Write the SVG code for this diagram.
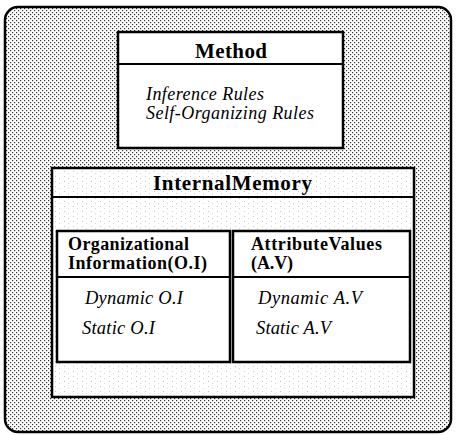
<svg xmlns="http://www.w3.org/2000/svg" width="456" height="435" viewBox="0 0 456 435">
  <defs>
    <pattern id="dots" width="4" height="4" patternUnits="userSpaceOnUse">
      <rect width="4" height="4" fill="#ffffff"/>
      <rect x="0" y="0" width="1.2" height="1.2" fill="#333"/>
      <rect x="2" y="2" width="1.2" height="1.2" fill="#333"/>
    </pattern>
    <pattern id="speckle" width="9" height="5" patternUnits="userSpaceOnUse">
      <rect width="9" height="5" fill="#ffffff"/>
      <rect x="1" y="1" width="1" height="1" fill="#c8c8c8"/>
      <rect x="5" y="3" width="1" height="1" fill="#d4d4d4"/>
    </pattern>
  </defs>
  <style>
    .box { fill: #ffffff; stroke: #000; stroke-width: 2.5; }
    .sep { stroke: #000; stroke-width: 2; }
    .hdr { font-family: "Liberation Serif", "Times New Roman", serif; font-weight: bold; fill: #000; }
    .itm { font-family: "Liberation Serif", "Times New Roman", serif; font-style: italic; fill: #000; }
  </style>

  <g id="background">
    <rect x="5" y="7" width="446" height="425" rx="13" ry="13" fill="url(#dots)" stroke="#000" stroke-width="2.5"/>
  </g>

  <g id="method">
    <rect class="box" x="118" y="32" width="225" height="116"/>
    <line class="sep" x1="118" y1="64" x2="343" y2="64"/>
    <text class="hdr" x="231" y="58" font-size="21" text-anchor="middle" textLength="72" lengthAdjust="spacing">Method</text>
    <text class="itm" x="146" y="100" font-size="18" textLength="118" lengthAdjust="spacing">Inference Rules</text>
    <text class="itm" x="146" y="119" font-size="18" textLength="168" lengthAdjust="spacing">Self-Organizing Rules</text>
  </g>

  <g id="internal-memory">
    <rect x="52" y="168" width="362" height="229" fill="url(#speckle)" stroke="#000" stroke-width="2.5"/>
    <line class="sep" x1="52" y1="197" x2="414" y2="197"/>
    <text class="hdr" x="232.5" y="190" font-size="21" text-anchor="middle" textLength="159" lengthAdjust="spacing">InternalMemory</text>
  </g>

  <g id="organizational-information">
    <rect class="box" x="57" y="231" width="173" height="131"/>
    <line class="sep" x1="57" y1="277" x2="230" y2="277"/>
    <text class="hdr" x="68" y="250" font-size="18" textLength="121" lengthAdjust="spacing">Organizational</text>
    <text class="hdr" x="68" y="269" font-size="18" textLength="139" lengthAdjust="spacing">Information(O.I)</text>
    <text class="itm" x="85" y="304" font-size="18.5" textLength="98" lengthAdjust="spacing">Dynamic O.I</text>
    <text class="itm" x="82" y="334" font-size="18.5" textLength="73" lengthAdjust="spacing">Static O.I</text>
  </g>

  <g id="attribute-values">
    <rect class="box" x="233" y="231" width="177" height="131"/>
    <line class="sep" x1="233" y1="277" x2="410" y2="277"/>
    <text class="hdr" x="251" y="250" font-size="18" textLength="131" lengthAdjust="spacing">AttributeValues</text>
    <text class="hdr" x="251" y="269" font-size="18" textLength="42" lengthAdjust="spacing">(A.V)</text>
    <text class="itm" x="258" y="304" font-size="18.5" textLength="104" lengthAdjust="spacing">Dynamic A.V</text>
    <text class="itm" x="256" y="334" font-size="18.5" textLength="75" lengthAdjust="spacing">Static A.V</text>
  </g>

  <g id="connectors"/>
</svg>
